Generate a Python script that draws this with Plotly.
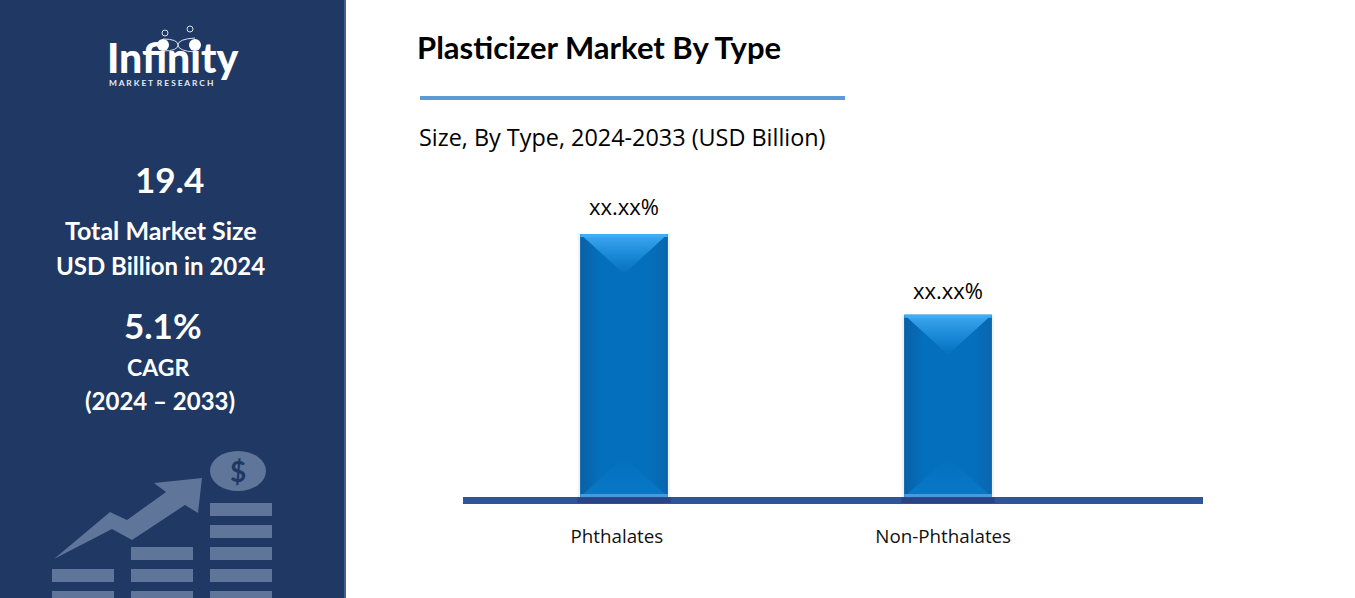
import plotly.graph_objects as go

# ---- data ----
categories = ["Phthalates", "Non-Phthalates"]
values = [11.4, 7.9]            # USD Billion (total 19.4)
bar_labels = ["xx.xx%", "xx.xx%"]
title_text = "Plasticizer Market By Type"
subtitle_text = "Size, By Type, 2024-2033 (USD Billion)"
panel_texts = ["19.4", "Total Market Size", "USD Billion in 2024", "5.1%", "CAGR", "(2024 \u2013 2033)"]

W, H = 1355, 598
NAVY, ICON = "#1F3864", "#5F7599"
FONT = "Lato"
px = lambda x: x / W
py = lambda y: 1 - y / H

# plot-area geometry
PLOT_L, PLOT_R, PLOT_T, PLOT_B = 463, 1203, 180, 497
X_RANGE = [-0.497, 1.787]
Y_RANGE = [0, 13.74]
BAR_W = 0.27
TICK_SHIFT = [-0.022, -0.015]
LABEL_SHIFT = [10.5, 7.5]
u_x = (X_RANGE[1] - X_RANGE[0]) / (PLOT_R - PLOT_L)   # x units per pixel
u_y = (Y_RANGE[1] - Y_RANGE[0]) / (PLOT_B - PLOT_T)   # y units per pixel

fig = go.Figure()

# soft shadow + main bars
fig.add_bar(x=list(range(len(categories))), y=values, width=BAR_W + 5 * u_x,
            marker=dict(color="rgba(120,130,150,0.10)", line_width=0), hoverinfo="skip")
fig.add_bar(x=list(range(len(categories))), y=values, width=BAR_W,
            marker=dict(color="#0470BD", line_width=0), name="Size")


def poly(xs, ys, colors, kind="vertical"):
    stops = [[k / (len(colors) - 1), col] for k, col in enumerate(colors)]
    fig.add_scatter(x=xs + xs[:1], y=ys + ys[:1], mode="lines", fill="toself",
                    line_width=0, hoverinfo="skip",
                    fillgradient=dict(type=kind, colorscale=stops))


shapes = []

for i, v in enumerate(values):
    l, r, c = i - BAR_W / 2, i + BAR_W / 2, i
    depth = 40 * u_y
    side = 20 * u_x
    drop = 18 * u_y
    # left / right bevels
    poly([l, l + side, l + side, l], [0, drop, v - drop, v], ["#0A60A6", "#0470BD"], "horizontal")
    poly([r, r - side, r - side, r], [0, drop, v - drop, v], ["#0470BD", "#0A66AE"], "horizontal")
    # top bevel
    poly([l, r, c], [v, v, v - depth], ["#0470BD", "#1C8AD8", "#3FA8F0"])
    # bottom bevel
    poly([l, r, c], [0, 0, depth], ["#0878C6", "#0470BD"])
    # highlight strips
    fig.add_scatter(x=[l, r, r, l, l], y=[v, v, v - 3 * u_y, v - 3 * u_y, v], mode="lines", fill="toself",
                    line_width=0, fillcolor="#3DAEF5", hoverinfo="skip")
    fig.add_scatter(x=[l, r, r, l, l], y=[0, 0, 3 * u_y, 3 * u_y, 0], mode="lines", fill="toself",
                    line_width=0, fillcolor="#4A9ADB", hoverinfo="skip")
    # darker band where the bar meets the axis line
    shapes.append(dict(type="rect", xref="x", yref="paper", x0=l - 3 * u_x, x1=r + 3 * u_x,
                       y0=py(503), y1=py(497.5), fillcolor="#2A4385", line_width=0, layer="above"))


def rect(x0, y0, x1, y1, color, layer="below"):
    shapes.append(dict(type="rect", xref="paper", yref="paper", x0=px(x0), x1=px(x1), y0=py(y1), y1=py(y0),
                       fillcolor=color, line_width=0, layer=layer))


def path(points, color):
    d = "M" + " L".join(f"{px(x):.5f},{py(y):.5f}" for x, y in points) + " Z"
    shapes.append(dict(type="path", xref="paper", yref="paper", path=d, fillcolor=color, line_width=0, layer="below"))


def circle(cx, cy, rx, ry, fill, line=None, lw=0):
    shapes.append(dict(type="circle", xref="paper", yref="paper", x0=px(cx - rx), x1=px(cx + rx),
                       y0=py(cy + ry), y1=py(cy - ry), fillcolor=fill,
                       line=dict(color=line or fill, width=lw), layer="above"))


# side panel
rect(0, 0, 344, H, NAVY)
rect(344, 0, 346, H, "#41618F")
# title rule
rect(420, 96, 845, 100, "#5B9BD5")

# decorative growth icon
path([(54, 559), (110, 512), (127, 520), (166, 492), (154, 483), (202, 478), (198, 513), (185, 505),
      (132, 540), (112, 529)], ICON)
for x0, rows in [(52, [569, 591]), (131, [547, 569, 591]), (210, [503, 525, 547, 569, 591])]:
    for y0 in rows:
        rect(x0, y0, x0 + 62, min(y0 + 13, H), ICON)
circle(238, 471, 28, 20, ICON)

# logo marks
circle(163, 45, 6, 6, "white")
circle(195, 45, 6, 6, "white")
circle(165, 33, 3, 3, "rgba(0,0,0,0)", "#D8DEE9", 1)
circle(190, 29, 3, 3, "rgba(0,0,0,0)", "#D8DEE9", 1)
for (a, b, e, f) in [((163, 39), (178, 39), (178, 45), (195, 52)), ((163, 51), (178, 51), (178, 45), (195, 38))]:
    shapes.append(dict(type="path", xref="paper", yref="paper",
                       path=f"M{px(a[0]):.5f},{py(a[1]):.5f} Q{px(b[0]):.5f},{py(b[1]):.5f} {px(e[0]):.5f},{py(e[1]):.5f} "
                            f"T{px(f[0]):.5f},{py(f[1]):.5f}",
                       line=dict(color="#D8DEE9", width=1), layer="above"))

annotations = []


def text(s, x, y, size, color="black", bold=False, anchor="center", font=FONT, weight=None, **kw):
    f = dict(size=size, color=color, family=font)
    if weight:
        f["weight"] = weight
    annotations.append(dict(text=f"<b>{s}</b>" if bold else s, xref="paper", yref="paper", x=px(x), y=py(y),
                            xanchor=anchor, yanchor="middle", showarrow=False, font=f, **kw))


text(title_text, 415, 47, 31, bold=True, anchor="left")
text(subtitle_text, 417, 136.5, 23.4, anchor="left", font="Open Sans")
for s, x, y, size in zip(panel_texts, [169, 160.5, 160, 163, 158, 160], [179.5, 230, 265, 325, 367, 400],
                         [35, 25, 24, 35, 23, 24]):
    text(s, x, y, size, color="white", bold=True)
text("Infinity", 172, 57, 41, color="white", font="Lato", weight=900)
text("M A R K E T  R E S E A R C H", 107, 83, 8.4, color="#E8ECF3", bold=True, anchor="left")
text("$", 238, 471, 28, color=NAVY, bold=True)

# data labels from the bars
for i, (v, lab) in enumerate(zip(values, bar_labels)):
    annotations.append(dict(text=lab, x=i, y=v, xref="x", yref="y", yanchor="bottom", yshift=LABEL_SHIFT[i],
                            showarrow=False, font=dict(size=22, color="black", family="Open Sans")))

fig.update_layout(
    width=W, height=H, margin=dict(l=0, r=0, t=0, b=0), autosize=False,
    paper_bgcolor="white", plot_bgcolor="rgba(0,0,0,0)", showlegend=False, barmode="overlay",
    shapes=shapes, annotations=annotations,
    xaxis=dict(domain=[px(PLOT_L), px(PLOT_R)], range=X_RANGE,
               tickvals=[i + s for i, s in enumerate(TICK_SHIFT)],
               ticktext=categories, showgrid=False, zeroline=False, showline=True, linewidth=7, linecolor="#2F5597",
               ticks="", ticklabelstandoff=16, tickfont=dict(size=18.8, color="#111", family="Open Sans")),
    yaxis=dict(domain=[py(PLOT_B), py(PLOT_T)], range=Y_RANGE, visible=False),
)

fig.write_html("out.html", post_script="document.body.style.margin='0';document.body.style.overflow='hidden';",
               config={"displayModeBar": False})
